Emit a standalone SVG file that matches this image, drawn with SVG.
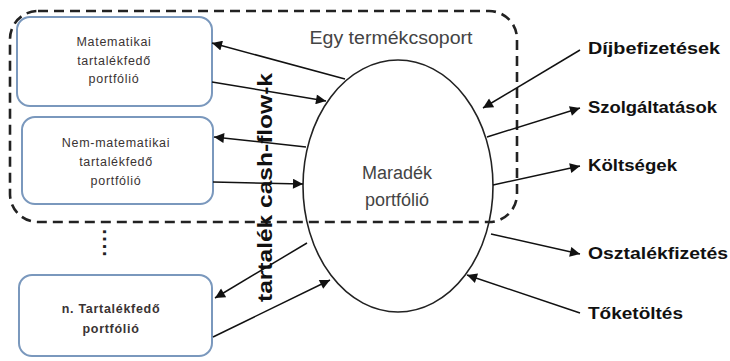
<svg xmlns="http://www.w3.org/2000/svg" width="730" height="361" viewBox="0 0 730 361">
<style>
.box{fill:#fff;stroke:#7a98bd;stroke-width:2}
.bt{font-family:"Liberation Sans",Arial,sans-serif;font-size:12.5px;fill:#3a3333;text-anchor:middle;letter-spacing:0.7px}
.lbl{font-family:"Liberation Sans",Arial,sans-serif;font-size:17px;font-weight:bold;fill:#111}
.gt{font-family:"Liberation Sans",Arial,sans-serif;font-size:18px;fill:#444;text-anchor:middle}
.c{stroke:#111;stroke-width:1.5;fill:none;marker-end:url(#ah)}
</style>
<defs>
<marker id="ah" viewBox="0 0 10 10" refX="10" refY="5" markerWidth="12" markerHeight="10" markerUnits="userSpaceOnUse" orient="auto">
<path d="M0,0 L10,5 L0,10 z" fill="#111"/>
</marker>
</defs>
<rect width="730" height="361" fill="#fff"/>
<g id="box1">
<rect class="box" x="17" y="17" width="195" height="89" rx="13"/>
<text class="bt" x="114" y="46">Matematikai</text>
<text class="bt" x="114" y="65">tartalékfedő</text>
<text class="bt" x="114" y="83">portfólió</text>
</g>
<g id="box2">
<rect class="box" x="22" y="117" width="191" height="87" rx="13"/>
<text class="bt" x="116" y="147">Nem-matematikai</text>
<text class="bt" x="116" y="166">tartalékfedő</text>
<text class="bt" x="116" y="185">portfólió</text>
</g>
<g id="box3">
<rect class="box" x="19" y="275" width="193" height="81" rx="13"/>
<text class="bt" x="111" y="313" font-weight="bold">n. Tartalékfedő</text>
<text class="bt" x="111" y="333" font-weight="bold">portfólió</text>
</g>
<g id="dots">
<text x="103" y="229" transform="rotate(90 103 229)" font-family="Liberation Sans,Arial,sans-serif" font-size="20" font-weight="bold" fill="#222" letter-spacing="1.8">....</text>
</g>
<g id="ellipse">
<ellipse cx="398" cy="186" rx="95" ry="126" fill="#fff" stroke="#222" stroke-width="1.6"/>
<text class="gt" x="397" y="179">Maradék</text>
<text class="gt" x="397" y="206">portfólió</text>
</g>
<g id="group-border">
<rect x="10" y="11" width="507" height="211" rx="28" ry="28" fill="none" stroke="#222" stroke-width="2.6" stroke-dasharray="10 6"/>
<text class="gt" x="391" y="44" textLength="163" lengthAdjust="spacingAndGlyphs">Egy termékcsoport</text>
</g>
<g id="vertical-label">
<text x="272" y="302" transform="rotate(-90 272 302)" font-family="Liberation Sans,Arial,sans-serif" font-size="21" font-weight="bold" fill="#111" textLength="229" lengthAdjust="spacingAndGlyphs">tartalék cash-flow-k</text>
</g>
<g id="connectors">
<line class="c" x1="345" y1="79" x2="212" y2="43"/>
<line class="c" x1="212" y1="82" x2="326" y2="101"/>
<line class="c" x1="306" y1="147" x2="214" y2="137"/>
<line class="c" x1="213" y1="182" x2="303" y2="184"/>
<line class="c" x1="307" y1="243" x2="215" y2="298"/>
<line class="c" x1="213" y1="337" x2="330" y2="280"/>
<line class="c" x1="580" y1="50" x2="483" y2="108"/>
<line class="c" x1="487" y1="137" x2="580" y2="108"/>
<line class="c" x1="493" y1="185" x2="580" y2="166"/>
<line class="c" x1="491" y1="234" x2="580" y2="254"/>
<line class="c" x1="580" y1="313" x2="467" y2="275"/>
</g>
<g id="labels">
<text class="lbl" x="588" y="54" textLength="132" lengthAdjust="spacingAndGlyphs">Díjbefizetések</text>
<text class="lbl" x="588" y="113" textLength="129" lengthAdjust="spacingAndGlyphs">Szolgáltatások</text>
<text class="lbl" x="588" y="171" textLength="89" lengthAdjust="spacingAndGlyphs">Költségek</text>
<text class="lbl" x="588" y="259" textLength="140" lengthAdjust="spacingAndGlyphs">Osztalékfizetés</text>
<text class="lbl" x="588" y="319" textLength="95" lengthAdjust="spacingAndGlyphs">Tőketöltés</text>
</g>
</svg>
